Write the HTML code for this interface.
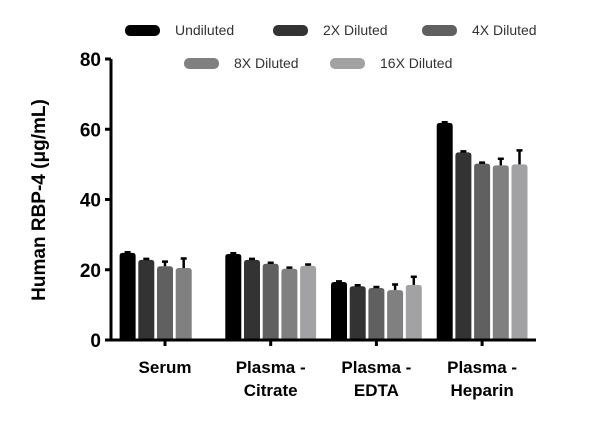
<!DOCTYPE html>
<html><head><meta charset="utf-8"><style>
body{margin:0;background:#fff;}
svg{display:block;font-family:"Liberation Sans",sans-serif;}
</style></head><body>
<svg id="chart" width="600" height="433">
<g id="legend"></g>
<g id="bars"></g>
<g id="axes"></g>
</svg>
<script>
const categories=[["Serum"],["Plasma -","Citrate"],["Plasma -","EDTA"],["Plasma -","Heparin"]];
const seriesNames=["Undiluted","2X Diluted","4X Diluted","8X Diluted","16X Diluted"];
const undiluted=[24.8,24.5,16.5,61.8];
const diluted2x=[22.8,22.8,15.3,53.4];
const diluted4x=[21.0,21.7,14.8,50.2];
const diluted8x=[20.5,20.3,14.2,49.7];
const diluted16x=[null,21.1,15.7,50.0];
const err2x=[0.3,0.3,0.3,0.3];
const errUndiluted=[0.2,0.2,0.2,0.2];
const err4x=[1.3,0.3,0.3,0.3];
const err8x=[2.7,0.3,1.6,1.9];
const err16x=[null,0.4,2.3,4.0];
const yTicks=[0,20,40,60,80];
const series=[undiluted,diluted2x,diluted4x,diluted8x,diluted16x];
const errs=[errUndiluted,err2x,err4x,err8x,err16x];
const colors=["#000","#333","#606060","#808080","#a2a2a5"];
const NS="http://www.w3.org/2000/svg";
const y0=340,y80=59,xL=111,xR=536;
const y=v=>y0-(v/80)*(y0-y80);
const groupX=i=>165+i*105.7;
const barW=16,step=18.7;
function mk(t,a,p){const e=document.createElementNS(NS,t);for(const k in a)e.setAttribute(k,a[k]);p.appendChild(e);return e;}
const bars=document.getElementById('bars'),axes=document.getElementById('axes'),legend=document.getElementById('legend');
series.forEach((s,si)=>{s.forEach((v,ci)=>{if(v==null)return;
 const cx=groupX(ci)+(si-2)*step;
 const r=mk('path',{d:`M${cx-barW/2},${y0} V${y(v)+3} Q${cx-barW/2},${y(v)} ${cx-barW/2+3},${y(v)} H${cx+barW/2-3} Q${cx+barW/2},${y(v)} ${cx+barW/2},${y(v)+3} V${y0} Z`,fill:colors[si]},bars);
 
 
 const e=errs[si][ci];
 if(e){const yt=y(v+e);
  const l=mk('path',{d:`M${cx},${y(v)} V${yt} M${cx-3},${yt} H${cx+3}`,stroke:'#000','stroke-width':2.5,fill:'none'},bars);
  
  }
});});
mk('path',{d:`M${xL},${y80} V${y0} H${xR}`,stroke:'#000','stroke-width':3,fill:'none'},axes);
yTicks.forEach(t=>{mk('line',{x1:xL-6,x2:xL,y1:y(t),y2:y(t),stroke:'#000','stroke-width':3},axes);
 const tx=mk('text',{x:xL-10,y:y(t)+7,'text-anchor':'end','font-size':19,'font-weight':'bold'},axes);tx.textContent=t;
 
 });
categories.forEach((c,i)=>{const gx=groupX(i);
 mk('line',{x1:gx,x2:gx,y1:y0,y2:y0+6,stroke:'#000','stroke-width':3},axes);
 c.forEach((ln,j)=>{const tx=mk('text',{x:gx,y:373+j*23,'text-anchor':'middle','font-size':17,'font-weight':'bold'},axes);tx.textContent=ln;
 
 });});
const yt=mk('text',{transform:'translate(45,200) rotate(-90)','text-anchor':'middle','font-size':19,'font-weight':'bold'},axes);
yt.textContent='Human RBP-4 (μg/mL)';


const legPos=[[125,30],[273,30],[422,30],[184,63],[330,63]];
seriesNames.forEach((n,i)=>{const [lx,ly]=legPos[i];
 const sw=mk('rect',{x:lx,y:ly-5,width:35,height:11,rx:5,fill:colors[i]},legend);
 
 
 const tx=mk('text',{x:lx+50,y:ly+5,'font-size':14,fill:'#333'},legend);tx.textContent=n;
 
 });
</script>
</body></html>
